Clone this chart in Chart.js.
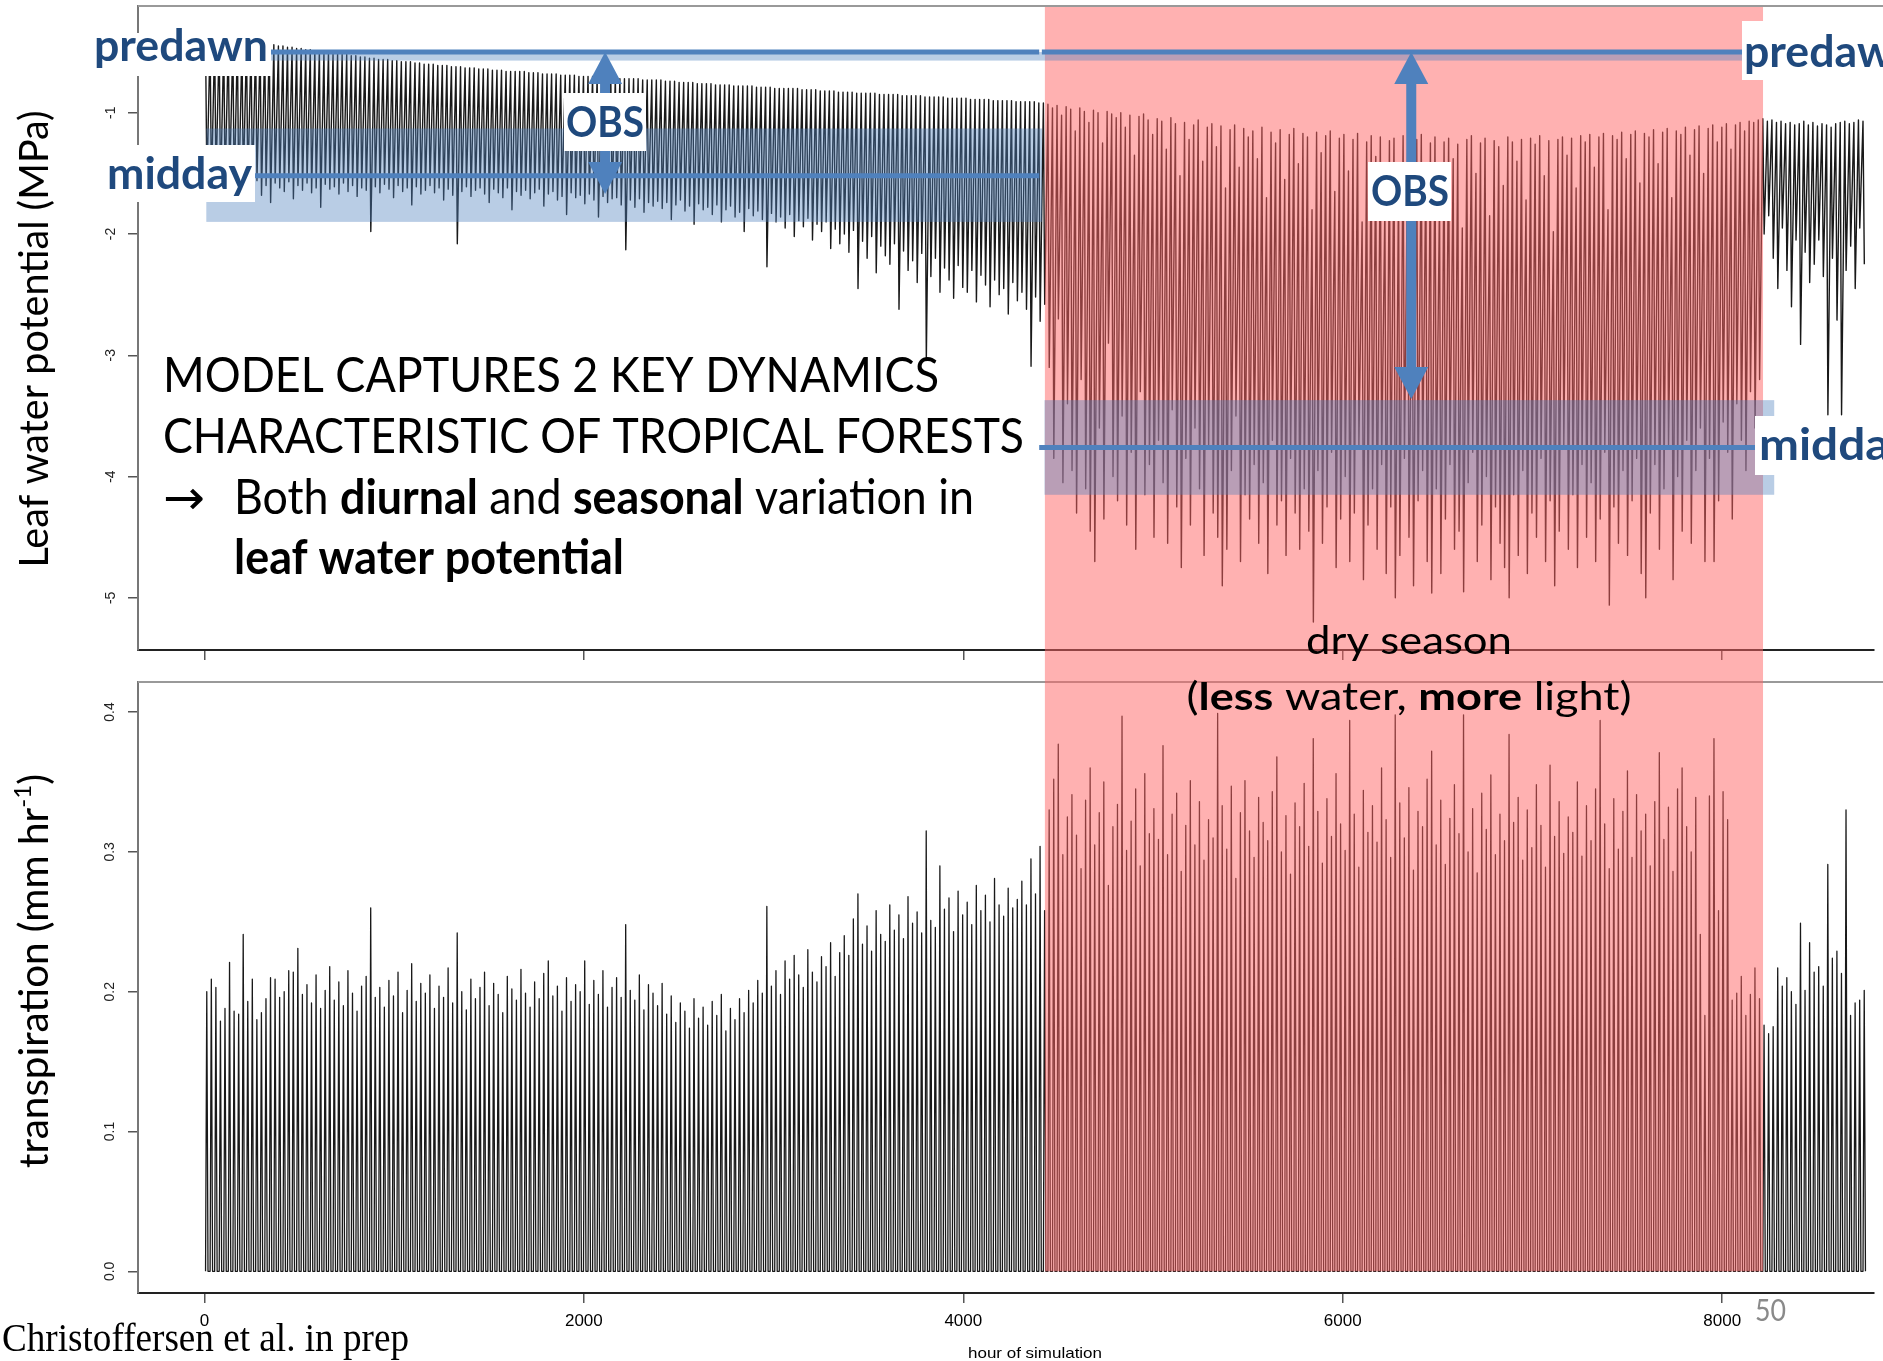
<!DOCTYPE html>
<html>
<head>
<meta charset="utf-8">
<script src="https://cdn.jsdelivr.net/npm/chart.js@4.4.1/dist/chart.umd.min.js"></script>
<style>
  html, body { margin: 0; padding: 0; background: #fff; overflow: hidden; width: 1883px; height: 1361px; }
  canvas { position: absolute; left: 0; top: 0; }
</style>
</head>
<body>
<canvas id="lwp" width="1883" height="1361"></canvas>
<canvas id="trans" width="1883" height="1361"></canvas>
<script>
// ---- simulated year, one entry per day (hour of simulation = 24*day + hour of day) ----
// leaf water potential at predawn (daily maximum), MPa
const lwpPredawn = [
  -0.40,-0.41,-0.40,-0.41,-0.42,-0.41,-0.42,-0.42,-0.43,-0.42,
  -0.43,-0.43,-0.44,-0.43,-0.43,-0.44,-0.45,-0.45,-0.46,-0.46,
  -0.47,-0.47,-0.48,-0.48,-0.49,-0.49,-0.50,-0.50,-0.51,-0.51,
  -0.52,-0.52,-0.53,-0.53,-0.54,-0.54,-0.55,-0.55,-0.56,-0.56,
  -0.56,-0.57,-0.57,-0.58,-0.58,-0.58,-0.59,-0.59,-0.60,-0.60,
  -0.60,-0.61,-0.61,-0.61,-0.62,-0.62,-0.62,-0.63,-0.63,-0.63,
  -0.64,-0.64,-0.64,-0.65,-0.65,-0.65,-0.66,-0.66,-0.66,-0.66,
  -0.66,-0.67,-0.67,-0.67,-0.68,-0.68,-0.68,-0.68,-0.69,-0.69,
  -0.69,-0.69,-0.70,-0.70,-0.70,-0.70,-0.71,-0.71,-0.71,-0.71,
  -0.71,-0.72,-0.72,-0.72,-0.72,-0.72,-0.73,-0.73,-0.73,-0.73,
  -0.73,-0.74,-0.74,-0.74,-0.75,-0.75,-0.75,-0.75,-0.76,-0.76,
  -0.76,-0.76,-0.77,-0.77,-0.77,-0.77,-0.78,-0.78,-0.78,-0.78,
  -0.78,-0.79,-0.79,-0.79,-0.79,-0.80,-0.80,-0.80,-0.80,-0.80,
  -0.80,-0.81,-0.81,-0.81,-0.81,-0.82,-0.82,-0.82,-0.82,-0.83,
  -0.83,-0.83,-0.83,-0.84,-0.84,-0.84,-0.84,-0.84,-0.85,-0.85,
  -0.85,-0.85,-0.85,-0.86,-0.86,-0.86,-0.86,-0.86,-0.87,-0.87,
  -0.87,-0.87,-0.87,-0.88,-0.88,-0.88,-0.88,-0.88,-0.89,-0.89,
  -0.89,-0.89,-0.89,-0.90,-0.90,-0.90,-0.90,-0.90,-0.91,-0.91,
  -0.91,-0.91,-0.91,-0.92,-0.92,-0.93,-0.96,-0.94,-1.02,-0.95,
  -0.97,-1.15,-0.96,-0.99,-1.08,-0.98,-1.00,-1.25,-0.99,-1.01,
  -1.04,-1.00,-1.12,-1.02,-1.35,-1.03,-1.01,-1.06,-1.18,-1.05,
  -1.07,-1.30,-1.04,-1.09,-1.52,-1.08,-1.22,-1.10,-1.06,-1.40,
  -1.12,-1.09,-1.28,-1.11,-1.62,-1.14,-1.10,-1.45,-1.13,-1.20,
  -1.15,-1.38,-1.12,-1.70,-1.16,-1.25,-1.14,-1.55,-1.18,-1.13,
  -1.42,-1.17,-1.20,-1.80,-1.16,-1.33,-1.19,-1.15,-1.65,-1.21,
  -1.18,-1.48,-1.22,-1.17,-1.90,-1.24,-1.19,-1.36,-1.20,-1.75,
  -1.23,-1.21,-1.55,-1.19,-1.30,-2.05,-1.22,-1.18,-1.44,-1.25,
  -1.20,-1.68,-1.24,-1.21,-1.38,-1.26,-1.95,-1.22,-1.19,-1.50,
  -1.25,-1.21,-1.85,-1.23,-1.28,-1.60,-1.20,-1.24,-1.40,-1.22,
  -1.72,-1.21,-1.26,-1.19,-1.52,-1.23,-1.98,-1.22,-1.20,-1.35,
  -1.21,-1.62,-1.19,-1.24,-1.18,-1.45,-1.20,-1.17,-1.80,-1.19,
  -1.22,-1.16,-1.38,-1.18,-1.15,-1.58,-1.17,-1.20,-1.14,-1.42,
  -1.16,-1.13,-1.70,-1.15,-1.18,-1.12,-1.35,-1.14,-1.11,-1.50,
  -1.13,-1.10,-1.24,-1.12,-1.09,-1.30,-1.10,-1.08,-1.15,-1.07,
  -1.08,-1.06,-1.05,-1.07,-1.06,-1.08,-1.07,-1.09,-1.08,-1.10,
  -1.09,-1.07,-1.10,-1.08,-1.11,-1.09,-1.10,-1.12,-1.09,-1.08,
  -1.07,-1.09,-1.08,-1.06,-1.07
];
// leaf water potential at midday (daily minimum), MPa
const lwpMidday = [
  -1.58,-1.62,-1.55,-1.66,-1.60,-1.57,-1.64,-1.70,-1.59,-1.61,
  -1.63,-1.56,-1.68,-1.60,-1.74,-1.58,-1.62,-1.65,-1.57,-1.71,
  -1.60,-1.64,-1.58,-1.66,-1.62,-1.78,-1.59,-1.63,-1.61,-1.67,
  -1.58,-1.65,-1.60,-1.69,-1.62,-1.64,-1.98,-1.61,-1.66,-1.59,
  -1.63,-1.70,-1.60,-1.65,-1.62,-1.76,-1.61,-1.67,-1.64,-1.60,
  -1.66,-1.62,-1.72,-1.63,-1.68,-2.08,-1.65,-1.61,-1.69,-1.64,
  -1.62,-1.67,-1.74,-1.63,-1.66,-1.70,-1.62,-1.80,-1.65,-1.68,
  -1.64,-1.71,-1.66,-1.63,-1.77,-1.67,-1.65,-1.72,-1.69,-1.84,
  -1.66,-1.70,-1.68,-1.75,-1.67,-1.72,-1.86,-1.69,-1.74,-1.71,
  -1.70,-1.76,-2.13,-1.72,-1.78,-1.71,-1.82,-1.74,-1.77,-1.73,
  -1.79,-1.74,-1.88,-1.76,-1.72,-1.81,-1.77,-1.92,-1.75,-1.80,
  -1.78,-1.84,-1.76,-1.90,-1.80,-1.77,-1.86,-1.82,-1.98,-1.79,
  -1.85,-1.81,-1.88,-2.27,-1.83,-1.90,-1.86,-1.95,-1.84,-2.02,
  -1.89,-1.94,-1.87,-2.05,-1.92,-1.98,-1.90,-2.12,-1.96,-2.08,
  -2.00,-2.15,-1.97,-2.45,-2.06,-2.20,-2.02,-2.32,-2.10,-2.18,
  -2.25,-2.08,-2.62,-2.14,-2.30,-2.22,-2.40,-2.16,-3.04,-2.35,
  -2.20,-2.48,-2.28,-2.38,-2.53,-2.26,-2.44,-2.48,-2.30,-2.56,
  -2.34,-2.42,-2.60,-2.38,-2.50,-2.45,-2.66,-2.40,-2.55,-2.48,
  -2.62,-3.09,-2.52,-2.72,-2.58,-3.10,-3.85,-2.70,-4.05,-3.40,
  -3.95,-4.30,-3.20,-4.10,-4.45,-4.70,-3.60,-4.35,-2.90,-4.00,
  -4.20,-3.50,-4.40,-3.80,-4.60,-3.30,-4.15,-3.90,-4.50,-3.70,
  -4.05,-4.55,-3.45,-4.25,-4.75,-3.85,-4.40,-3.60,-4.10,-4.65,
  -3.75,-4.30,-4.50,-4.90,-4.60,-3.95,-3.50,-4.70,-4.15,-4.35,
  -3.90,-4.55,-4.05,-4.80,-3.70,-4.40,-4.20,-4.65,-3.85,-4.30,
  -4.60,-4.10,-4.45,-5.20,-3.95,-4.55,-4.25,-3.80,-4.75,-4.35,
  -4.00,-4.70,-4.30,-3.75,-4.85,-4.40,-4.10,-4.60,-3.90,-4.80,
  -4.25,-5.00,-4.65,-3.85,-4.50,-4.90,-4.20,-3.95,-4.70,-4.96,
  -4.10,-4.80,-4.35,-3.90,-4.60,-4.45,-4.95,-4.05,-3.80,-4.70,
  -4.40,-4.00,-4.85,-4.25,-4.55,-4.75,-5.00,-4.15,-4.65,-3.95,
  -4.80,-4.30,-4.50,-3.85,-4.70,-4.20,-4.90,-4.45,-3.75,-4.60,
  -4.15,-4.75,-3.90,-4.50,-4.05,-4.70,-4.35,-3.80,-5.06,-4.25,
  -4.55,-3.95,-4.65,-4.20,-3.85,-4.80,-5.00,-4.30,-3.90,-4.60,
  -4.10,-3.75,-4.85,-4.00,-4.45,-3.70,-4.55,-3.95,-3.60,-4.70,
  -3.85,-4.70,-4.20,-3.55,-3.80,-4.35,-3.40,-3.70,-3.95,-3.30,
  -3.60,-3.20,-2.00,-1.85,-2.20,-2.45,-1.95,-2.30,-2.60,-2.05,
  -2.91,-2.15,-2.40,-2.25,-2.05,-2.35,-3.49,-2.20,-2.71,-3.49,
  -2.30,-2.10,-2.45,-1.95,-2.25
];
// daily peak transpiration, mm hr-1 (zero through the night)
const transPeak = [
  0.200,0.209,0.203,0.179,0.188,0.221,0.186,0.184,0.241,0.193,
  0.209,0.180,0.185,0.195,0.210,0.209,0.196,0.200,0.215,0.214,
  0.231,0.198,0.205,0.192,0.212,0.188,0.201,0.218,0.194,0.207,
  0.190,0.215,0.199,0.186,0.204,0.211,0.260,0.196,0.203,0.189,
  0.208,0.197,0.214,0.185,0.201,0.220,0.193,0.206,0.199,0.212,
  0.188,0.204,0.196,0.217,0.192,0.242,0.200,0.187,0.209,0.195,
  0.203,0.214,0.190,0.206,0.198,0.185,0.211,0.202,0.194,0.216,
  0.199,0.189,0.207,0.195,0.213,0.222,0.197,0.204,0.186,0.210,
  0.193,0.205,0.200,0.222,0.191,0.208,0.198,0.215,0.189,0.203,
  0.210,0.196,0.248,0.201,0.194,0.212,0.187,0.205,0.199,0.190,
  0.206,0.184,0.197,0.178,0.192,0.186,0.174,0.195,0.181,0.189,
  0.176,0.193,0.183,0.198,0.172,0.188,0.180,0.195,0.185,0.201,
  0.192,0.208,0.199,0.261,0.204,0.215,0.198,0.222,0.209,0.226,
  0.212,0.203,0.230,0.214,0.207,0.225,0.218,0.235,0.211,0.228,
  0.240,0.226,0.252,0.270,0.234,0.247,0.229,0.258,0.241,0.236,
  0.262,0.244,0.255,0.238,0.268,0.249,0.257,0.242,0.315,0.251,
  0.246,0.290,0.259,0.267,0.243,0.272,0.255,0.264,0.248,0.276,
  0.258,0.269,0.250,0.281,0.262,0.254,0.274,0.260,0.266,0.279,
  0.262,0.295,0.270,0.304,0.258,0.330,0.352,0.377,0.298,0.325,
  0.341,0.312,0.288,0.337,0.360,0.305,0.328,0.350,0.276,0.318,
  0.334,0.397,0.301,0.322,0.345,0.290,0.356,0.313,0.331,0.309,
  0.376,0.298,0.327,0.342,0.286,0.319,0.351,0.305,0.336,0.294,
  0.323,0.310,0.399,0.333,0.302,0.347,0.281,0.328,0.351,0.315,
  0.296,0.339,0.321,0.308,0.343,0.368,0.300,0.326,0.284,0.335,
  0.318,0.349,0.304,0.381,0.329,0.292,0.338,0.311,0.356,0.320,
  0.301,0.394,0.327,0.289,0.344,0.314,0.333,0.307,0.360,0.323,
  0.296,0.398,0.335,0.310,0.346,0.287,0.329,0.318,0.352,0.372,
  0.305,0.337,0.291,0.324,0.348,0.313,0.398,0.300,0.331,0.285,
  0.342,0.316,0.355,0.298,0.327,0.308,0.384,0.321,0.339,0.294,
  0.330,0.303,0.348,0.319,0.289,0.362,0.311,0.336,0.299,0.325,
  0.314,0.350,0.297,0.333,0.308,0.345,0.394,0.320,0.288,0.338,
  0.302,0.329,0.358,0.296,0.341,0.315,0.327,0.290,0.336,0.371,
  0.309,0.332,0.286,0.345,0.360,0.318,0.300,0.339,0.241,0.183,
  0.340,0.381,0.258,0.343,0.323,0.194,0.199,0.211,0.183,0.198,
  0.217,0.195,0.176,0.170,0.175,0.217,0.204,0.210,0.200,0.191,
  0.249,0.201,0.235,0.214,0.218,0.204,0.291,0.224,0.229,0.213,
  0.330,0.183,0.192,0.194,0.201
];

// axes
const hourTicks = [0, 2000, 4000, 6000, 8000];
const lwpTicks = [-5, -4, -3, -2, -1];
const transTicks = [0, 0.1, 0.2, 0.3, 0.4];
const hourRange = [-350, 8800];
const lwpRange = [-5.43, -0.12];
const transRange = [-0.0155, 0.4215];

// dry season (hours) and observed leaf water potential ranges
const drySeason = [4430, 8215];
const obsPredawn = -0.50;
const obsPredawnBand = [-0.50, -0.57];
const obsMiddayWet = -1.52, obsMiddayWetBand = [-1.13, -1.90];
const obsMiddayDry = -3.76, obsMiddayDryBand = [-3.37, -4.15];

// hourly trace: predawn maximum near 06h, midday minimum near 13h
const lwpPoints = [];
lwpPredawn.forEach((p, d) => {
  lwpPoints.push({ x: d * 24 + 6, y: p });
  lwpPoints.push({ x: d * 24 + 13, y: lwpMidday[d] });
});
const transPoints = [];
transPeak.forEach((p, d) => {
  transPoints.push({ x: d * 24 + 6, y: 0 });
  transPoints.push({ x: d * 24 + 12.5, y: p });
  transPoints.push({ x: d * 24 + 19, y: 0 });
});

const BLUE = 'rgb(79,129,189)';
const BAND = 'rgba(79,129,189,0.4)';
const NAVY = '#1F497D';
const SANS = "Lato, 'Open Sans', 'DejaVu Sans', sans-serif";

function drawRuns(ctx, runs, x, y, o) {
  ctx.save();
  const fontOf = r => `${r[1] ? 'bold ' : ''}${(o.size * (r[2] || 1)).toFixed(1)}px ${o.family || SANS}`;
  let total = 0;
  const ws = runs.map(r => { ctx.font = fontOf(r); const w = ctx.measureText(r[0]).width; total += w; return w; });
  const sx = o.width ? o.width / total : 1;
  ctx.translate(x, y);
  if (o.rotate) ctx.rotate(o.rotate);
  ctx.scale(sx, 1);
  let cx = o.align === 'center' ? -total / 2 : 0;
  ctx.fillStyle = o.color || '#000';
  ctx.textBaseline = 'alphabetic';
  ctx.textAlign = 'left';
  runs.forEach((r, i) => {
    ctx.font = fontOf(r);
    ctx.fillText(r[0], cx, -(r[3] || 0) * o.size);
    cx += ws[i];
  });
  ctx.restore();
}

function vArrow(ctx, x, y1, y2, shaft, headW, headH) {
  ctx.fillStyle = BLUE;
  ctx.fillRect(x - shaft / 2, y1 + headH - 1, shaft, y2 - y1 - 2 * headH + 2);
  ctx.beginPath();
  ctx.moveTo(x, y1); ctx.lineTo(x + headW / 2, y1 + headH); ctx.lineTo(x - headW / 2, y1 + headH);
  ctx.closePath(); ctx.fill();
  ctx.beginPath();
  ctx.moveTo(x, y2); ctx.lineTo(x + headW / 2, y2 - headH); ctx.lineTo(x - headW / 2, y2 - headH);
  ctx.closePath(); ctx.fill();
}

function hLine(ctx, x1, x2, y, w, color) {
  ctx.strokeStyle = color; ctx.lineWidth = w;
  ctx.beginPath(); ctx.moveTo(x1, y); ctx.lineTo(x2, y); ctx.stroke();
}

function whiteBox(ctx, x, y, w, h) { ctx.fillStyle = '#fff'; ctx.fillRect(x, y, w, h); }

const boxTop = {
  id: 'boxTop',
  beforeDatasetsDraw(chart) {
    const { ctx, chartArea: a } = chart;
    ctx.save();
    hLine(ctx, a.left, a.right + 10, a.top, 2, '#999');
    ctx.restore();
  }
};

function noEdgePadding(s) {
  s.paddingTop = 0; s.paddingBottom = 0; s.paddingLeft = 0; s.paddingRight = 0;
}

function hourScale(showLabels) {
  return {
    type: 'linear', min: hourRange[0], max: hourRange[1], bounds: 'data',
    afterBuildTicks: s => { s.ticks = hourTicks.map(v => ({ value: v })); },
    afterFit: s => { s.height = showLabels ? 60 : 30; noEdgePadding(s); },
    ticks: { display: showLabels, maxRotation: 0, padding: 8, color: '#000',
             font: { family: 'Liberation Sans', size: 17 }, callback: v => String(v) },
    grid: { drawOnChartArea: false, tickLength: 10, color: '#555', lineWidth: 1.5 },
    border: { color: '#222', width: 2 }
  };
}

function valueScale(range, ticks, fmt, pad) {
  return {
    type: 'linear', min: range[0], max: range[1], bounds: 'data',
    afterBuildTicks: s => { s.ticks = ticks.map(v => ({ value: v })); },
    afterFit: s => { s.width = 60; noEdgePadding(s); },
    ticks: { minRotation: 90, maxRotation: 90, crossAlign: 'center', padding: pad, color: '#222',
             font: { family: 'Liberation Sans', size: 14 }, callback: fmt },
    grid: { drawOnChartArea: false, tickLength: 10, color: '#555', lineWidth: 1.5 },
    border: { color: '#777', width: 2 }
  };
}

const common = {
  responsive: false, animation: false, devicePixelRatio: 1, events: [],
  plugins: { legend: { display: false }, tooltip: { enabled: false } }
};

const lwpChart = new Chart(document.getElementById('lwp'), {
  type: 'line',
  data: { datasets: [{ data: lwpPoints, borderColor: 'rgba(0,0,0,0.9)', borderWidth: 1.4,
                       borderJoinStyle: 'round', pointRadius: 0, tension: 0, fill: false }] },
  options: Object.assign({}, common, {
    layout: { padding: { left: 78, top: 6, right: 9, bottom: 681 } },
    scales: {
      x: hourScale(false),
      y: valueScale(lwpRange, lwpTicks, v => String(v), 11)
    }
  }),
  plugins: [boxTop]
});

const overlay = {
  id: 'overlay',
  afterDraw(chart) {
    const ctx = chart.ctx;
    const X = h => chart.scales.x.getPixelForValue(h);
    const YA = v => lwpChart.scales.y.getPixelForValue(v);
    const YB = v => chart.scales.y.getPixelForValue(v);
    const topA = lwpChart.chartArea.top;
    ctx.save();

    // dry season shading across both panels
    ctx.fillStyle = 'rgba(255,100,100,0.5)';
    ctx.fillRect(X(drySeason[0]), topA + 1, X(drySeason[1]) - X(drySeason[0]), YB(0) - topA - 1);

    // observed ranges
    ctx.fillStyle = BAND;
    ctx.fillRect(X(10), YA(obsMiddayWetBand[0]), X(4415) - X(10), YA(obsMiddayWetBand[1]) - YA(obsMiddayWetBand[0]));
    ctx.fillRect(X(4428), YA(obsMiddayDryBand[0]), X(8274) - X(4428), YA(obsMiddayDryBand[1]) - YA(obsMiddayDryBand[0]));
    ctx.fillRect(X(349), YA(obsPredawnBand[0]), X(8105) - X(349), YA(obsPredawnBand[1]) - YA(obsPredawnBand[0]));

    hLine(ctx, X(349), X(4400), YA(obsPredawn), 5, BLUE);
    hLine(ctx, X(4414), X(8105), YA(obsPredawn), 5, BLUE);
    hLine(ctx, X(262), X(4400), YA(obsMiddayWet), 5, BLUE);
    hLine(ctx, X(4400), X(8174), YA(obsMiddayDry), 5, BLUE);

    vArrow(ctx, X(2112), YA(obsPredawn), YA(-1.67), 10, 34, 32);
    vArrow(ctx, X(6361), YA(obsPredawn), YA(-3.36), 10, 34, 32);

    // labels in white boxes
    whiteBox(ctx, 88, 33, 183, 43);
    whiteBox(ctx, 104, 145, 151, 57);
    whiteBox(ctx, 1742, 21, 150, 59);
    whiteBox(ctx, 1755, 416, 140, 59);
    whiteBox(ctx, 564, 93, 82, 58);
    whiteBox(ctx, 1368, 162, 83, 59);
    drawRuns(ctx, [['predawn', true]], 94, 61, { size: 44, width: 174, color: NAVY });
    drawRuns(ctx, [['midday', true]], 107, 189, { size: 44, width: 145, color: NAVY });
    drawRuns(ctx, [['predawn', true]], 1744, 67, { size: 44, width: 174, color: NAVY });
    drawRuns(ctx, [['midday', true]], 1759, 460, { size: 44, width: 155, color: NAVY });
    drawRuns(ctx, [['OBS', true]], 605, 137, { size: 42, width: 78, color: NAVY, align: 'center' });
    drawRuns(ctx, [['OBS', true]], 1410, 206, { size: 42, width: 78, color: NAVY, align: 'center' });

    // message
    drawRuns(ctx, [['MODEL CAPTURES 2 KEY DYNAMICS']], 163, 392, { size: 48, width: 776 });
    drawRuns(ctx, [['CHARACTERISTIC OF TROPICAL FORESTS']], 163, 453, { size: 48, width: 861 });
    drawRuns(ctx, [['\u2192']], 163, 514, { size: 48, width: 42, family: "'DejaVu Sans', sans-serif" });
    drawRuns(ctx, [['Both '], ['diurnal', true], [' and '], ['seasonal', true], [' variation in']], 234, 514, { size: 48, width: 740 });
    drawRuns(ctx, [['leaf water potential', true]], 234, 574, { size: 48, width: 390 });

    drawRuns(ctx, [['dry season']], 1409, 654, { size: 38, width: 206, align: 'center' });
    drawRuns(ctx, [['('], ['less', true], [' water, '], ['more', true], [' light)']], 1409, 710, { size: 38, width: 445, align: 'center' });

    // axis titles
    drawRuns(ctx, [['Leaf water potential (MPa)']], 48, 339, { size: 40, width: 457, align: 'center', rotate: -Math.PI / 2 });
    drawRuns(ctx, [['transpiration (mm hr'], ['-1', false, 0.6, 0.42], [')']], 48, 971, { size: 40, width: 394, align: 'center', rotate: -Math.PI / 2 });
    drawRuns(ctx, [['hour of simulation']], 1035, 1358, { size: 15, width: 134, align: 'center', family: 'Liberation Sans' });

    drawRuns(ctx, [['Christoffersen et al. in prep']], 2, 1351, { size: 40, width: 407, family: "'Liberation Serif', serif" });
    drawRuns(ctx, [['50']], 1755, 1321, { size: 30, width: 31, color: '#8a8a8a' });
    ctx.restore();
  }
};

const transChart = new Chart(document.getElementById('trans'), {
  type: 'line',
  data: { datasets: [{ data: transPoints, borderColor: 'rgba(0,0,0,0.9)', borderWidth: 1.3,
                       borderJoinStyle: 'round', pointRadius: 0, tension: 0, fill: false }] },
  options: Object.assign({}, common, {
    layout: { padding: { left: 78, top: 682, right: 9, bottom: 8 } },
    scales: {
      x: hourScale(true),
      y: valueScale(transRange, transTicks, v => v.toFixed(1), 8)
    }
  }),
  plugins: [boxTop, overlay]
});
</script>
</body>
</html>
